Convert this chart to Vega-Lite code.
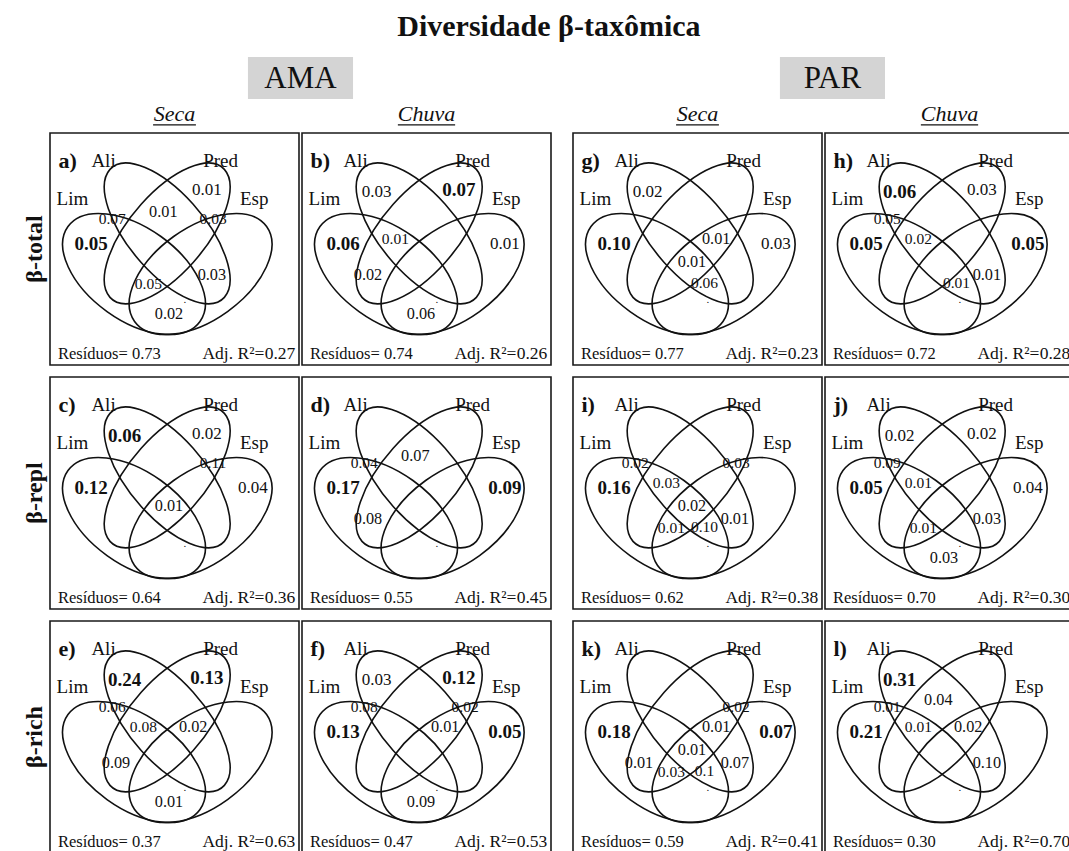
{
  "$schema": "https://vega.github.io/schema/vega-lite/v6.json",
  "background": "white",
  "padding": {"left": 22, "top": 12, "right": 0, "bottom": 0},
  "title": {"text": "Diversidade β-taxômica", "font": "Liberation Serif", "fontSize": 30, "fontWeight": "bold", "color": "#111", "anchor": "middle", "offset": 14},
  "datasets": {
    "fracoes": [
      {"letra": "a)", "regiao": "P", "valor": "0.01", "sig": false},
      {"letra": "a)", "regiao": "LA", "valor": "0.07", "sig": false},
      {"letra": "a)", "regiao": "AP", "valor": "0.01", "sig": false},
      {"letra": "a)", "regiao": "PE", "valor": "0.03", "sig": false},
      {"letra": "a)", "regiao": "L", "valor": "0.05", "sig": true},
      {"letra": "a)", "regiao": "LPE", "valor": "0.05", "sig": false},
      {"letra": "a)", "regiao": "AE", "valor": "0.03", "sig": false},
      {"letra": "a)", "regiao": "LE", "valor": "0.02", "sig": false},
      {"letra": "b)", "regiao": "A", "valor": "0.03", "sig": false},
      {"letra": "b)", "regiao": "P", "valor": "0.07", "sig": true},
      {"letra": "b)", "regiao": "L", "valor": "0.06", "sig": true},
      {"letra": "b)", "regiao": "LAP", "valor": "0.01", "sig": false},
      {"letra": "b)", "regiao": "E", "valor": "0.01", "sig": false},
      {"letra": "b)", "regiao": "LP", "valor": "0.02", "sig": false},
      {"letra": "b)", "regiao": "LE", "valor": "0.06", "sig": false},
      {"letra": "c)", "regiao": "A", "valor": "0.06", "sig": true},
      {"letra": "c)", "regiao": "P", "valor": "0.02", "sig": false},
      {"letra": "c)", "regiao": "PE", "valor": "0.11", "sig": false},
      {"letra": "c)", "regiao": "L", "valor": "0.12", "sig": true},
      {"letra": "c)", "regiao": "E", "valor": "0.04", "sig": false},
      {"letra": "c)", "regiao": "LAPE", "valor": "0.01", "sig": false},
      {"letra": "d)", "regiao": "LA", "valor": "0.04", "sig": false},
      {"letra": "d)", "regiao": "AP", "valor": "0.07", "sig": false},
      {"letra": "d)", "regiao": "L", "valor": "0.17", "sig": true},
      {"letra": "d)", "regiao": "E", "valor": "0.09", "sig": true},
      {"letra": "d)", "regiao": "LP", "valor": "0.08", "sig": false},
      {"letra": "e)", "regiao": "A", "valor": "0.24", "sig": true},
      {"letra": "e)", "regiao": "P", "valor": "0.13", "sig": true},
      {"letra": "e)", "regiao": "LA", "valor": "0.06", "sig": false},
      {"letra": "e)", "regiao": "LAP", "valor": "0.08", "sig": false},
      {"letra": "e)", "regiao": "APE", "valor": "0.02", "sig": false},
      {"letra": "e)", "regiao": "LP", "valor": "0.09", "sig": false},
      {"letra": "e)", "regiao": "LE", "valor": "0.01", "sig": false},
      {"letra": "f)", "regiao": "A", "valor": "0.03", "sig": false},
      {"letra": "f)", "regiao": "P", "valor": "0.12", "sig": true},
      {"letra": "f)", "regiao": "LA", "valor": "0.08", "sig": false},
      {"letra": "f)", "regiao": "PE", "valor": "0.02", "sig": false},
      {"letra": "f)", "regiao": "L", "valor": "0.13", "sig": true},
      {"letra": "f)", "regiao": "APE", "valor": "0.01", "sig": false},
      {"letra": "f)", "regiao": "E", "valor": "0.05", "sig": true},
      {"letra": "f)", "regiao": "LE", "valor": "0.09", "sig": false},
      {"letra": "g)", "regiao": "A", "valor": "0.02", "sig": false},
      {"letra": "g)", "regiao": "L", "valor": "0.10", "sig": true},
      {"letra": "g)", "regiao": "APE", "valor": "0.01", "sig": false},
      {"letra": "g)", "regiao": "E", "valor": "0.03", "sig": false},
      {"letra": "g)", "regiao": "LAPE", "valor": "0.01", "sig": false},
      {"letra": "g)", "regiao": "LAE", "valor": "0.06", "sig": false},
      {"letra": "h)", "regiao": "A", "valor": "0.06", "sig": true},
      {"letra": "h)", "regiao": "P", "valor": "0.03", "sig": false},
      {"letra": "h)", "regiao": "LA", "valor": "0.05", "sig": false},
      {"letra": "h)", "regiao": "LAP", "valor": "0.02", "sig": false},
      {"letra": "h)", "regiao": "L", "valor": "0.05", "sig": true},
      {"letra": "h)", "regiao": "E", "valor": "0.05", "sig": true},
      {"letra": "h)", "regiao": "LAE", "valor": "0.01", "sig": false},
      {"letra": "h)", "regiao": "AE", "valor": "0.01", "sig": false},
      {"letra": "i)", "regiao": "LA", "valor": "0.02", "sig": false},
      {"letra": "i)", "regiao": "PE", "valor": "0.03", "sig": false},
      {"letra": "i)", "regiao": "L", "valor": "0.16", "sig": true},
      {"letra": "i)", "regiao": "LAP", "valor": "0.03", "sig": false},
      {"letra": "i)", "regiao": "LAPE", "valor": "0.02", "sig": false},
      {"letra": "i)", "regiao": "AE", "valor": "0.01", "sig": false},
      {"letra": "i)", "regiao": "LPE", "valor": "0.01", "sig": false},
      {"letra": "i)", "regiao": "LAE", "valor": "0.10", "sig": false},
      {"letra": "j)", "regiao": "A", "valor": "0.02", "sig": false},
      {"letra": "j)", "regiao": "P", "valor": "0.02", "sig": false},
      {"letra": "j)", "regiao": "LA", "valor": "0.09", "sig": false},
      {"letra": "j)", "regiao": "LAP", "valor": "0.01", "sig": false},
      {"letra": "j)", "regiao": "L", "valor": "0.05", "sig": true},
      {"letra": "j)", "regiao": "E", "valor": "0.04", "sig": false},
      {"letra": "j)", "regiao": "AE", "valor": "0.03", "sig": false},
      {"letra": "j)", "regiao": "LPE", "valor": "0.01", "sig": false},
      {"letra": "j)", "regiao": "LE", "valor": "0.03", "sig": false},
      {"letra": "k)", "regiao": "PE", "valor": "0.02", "sig": false},
      {"letra": "k)", "regiao": "L", "valor": "0.18", "sig": true},
      {"letra": "k)", "regiao": "APE", "valor": "0.01", "sig": false},
      {"letra": "k)", "regiao": "E", "valor": "0.07", "sig": true},
      {"letra": "k)", "regiao": "LAPE", "valor": "0.01", "sig": false},
      {"letra": "k)", "regiao": "AE", "valor": "0.07", "sig": false},
      {"letra": "k)", "regiao": "LP", "valor": "0.01", "sig": false},
      {"letra": "k)", "regiao": "LPE", "valor": "0.03", "sig": false},
      {"letra": "k)", "regiao": "LAE", "valor": "0.1", "sig": false},
      {"letra": "l)", "regiao": "A", "valor": "0.31", "sig": true},
      {"letra": "l)", "regiao": "AP", "valor": "0.04", "sig": false},
      {"letra": "l)", "regiao": "LA", "valor": "0.01", "sig": false},
      {"letra": "l)", "regiao": "L", "valor": "0.21", "sig": true},
      {"letra": "l)", "regiao": "LAP", "valor": "0.01", "sig": false},
      {"letra": "l)", "regiao": "APE", "valor": "0.02", "sig": false},
      {"letra": "l)", "regiao": "AE", "valor": "0.10", "sig": false}
    ],
    "paineis": [
      {"letra": "a)", "indice": "β-total", "local": "AMA", "periodo": "Seca", "residuos": 0.73, "r2": 0.27},
      {"letra": "b)", "indice": "β-total", "local": "AMA", "periodo": "Chuva", "residuos": 0.74, "r2": 0.26},
      {"letra": "c)", "indice": "β-repl", "local": "AMA", "periodo": "Seca", "residuos": 0.64, "r2": 0.36},
      {"letra": "d)", "indice": "β-repl", "local": "AMA", "periodo": "Chuva", "residuos": 0.55, "r2": 0.45},
      {"letra": "e)", "indice": "β-rich", "local": "AMA", "periodo": "Seca", "residuos": 0.37, "r2": 0.63},
      {"letra": "f)", "indice": "β-rich", "local": "AMA", "periodo": "Chuva", "residuos": 0.47, "r2": 0.53},
      {"letra": "g)", "indice": "β-total", "local": "PAR", "periodo": "Seca", "residuos": 0.77, "r2": 0.23},
      {"letra": "h)", "indice": "β-total", "local": "PAR", "periodo": "Chuva", "residuos": 0.72, "r2": 0.28},
      {"letra": "i)", "indice": "β-repl", "local": "PAR", "periodo": "Seca", "residuos": 0.62, "r2": 0.38},
      {"letra": "j)", "indice": "β-repl", "local": "PAR", "periodo": "Chuva", "residuos": 0.70, "r2": 0.30},
      {"letra": "k)", "indice": "β-rich", "local": "PAR", "periodo": "Seca", "residuos": 0.59, "r2": 0.41},
      {"letra": "l)", "indice": "β-rich", "local": "PAR", "periodo": "Chuva", "residuos": 0.30, "r2": 0.70}
    ],
    "regioes": [
      {"regiao": "L", "x": 0.165, "y": 0.48, "tipo": "externa"},
      {"regiao": "A", "x": 0.3, "y": 0.255, "tipo": "externa"},
      {"regiao": "P", "x": 0.63, "y": 0.245, "tipo": "externa"},
      {"regiao": "E", "x": 0.815, "y": 0.48, "tipo": "externa"},
      {"regiao": "LA", "x": 0.25, "y": 0.372, "tipo": "estreita"},
      {"regiao": "PE", "x": 0.655, "y": 0.37, "tipo": "estreita"},
      {"regiao": "AP", "x": 0.455, "y": 0.342, "tipo": "central"},
      {"regiao": "LAP", "x": 0.375, "y": 0.458, "tipo": "estreita"},
      {"regiao": "APE", "x": 0.575, "y": 0.455, "tipo": "central"},
      {"regiao": "LAPE", "x": 0.478, "y": 0.555, "tipo": "central"},
      {"regiao": "LP", "x": 0.265, "y": 0.61, "tipo": "central"},
      {"regiao": "AE", "x": 0.65, "y": 0.61, "tipo": "central"},
      {"regiao": "LPE", "x": 0.395, "y": 0.652, "tipo": "estreita"},
      {"regiao": "LAE", "x": 0.528, "y": 0.648, "tipo": "estreita"},
      {"regiao": "LE", "x": 0.478, "y": 0.78, "tipo": "central"}
    ]
  },
  "data": {"name": "fracoes"},
  "transform": [
    {"lookup": "letra", "from": {"data": {"name": "paineis"}, "key": "letra", "fields": ["indice", "local", "periodo", "residuos", "r2"]}},
    {"lookup": "regiao", "from": {"data": {"name": "regioes"}, "key": "regiao", "fields": ["x", "y", "tipo"]}}
  ],
  "spacing": 20,
  "hconcat": [
    {
      "transform": [{"filter": "datum.local === 'AMA'"}],
      "bounds": "flush",
      "spacing": {"row": 12, "column": 3},
      "facet": {
        "row": {"field": "indice", "type": "nominal", "sort": ["β-total", "β-repl", "β-rich"], "title": null,
                "header": {"labelFont": "Liberation Serif", "labelFontSize": 24, "labelFontWeight": "bold", "labelColor": "#111", "labelAngle": -90, "labelOrient": "left", "labelPadding": -9}},
        "column": {"field": "periodo", "type": "nominal", "sort": ["Seca", "Chuva"], "title": null, "header": {"labels": false}}
      },
      "spec": {
        "width": 249,
        "height": 232,
        "layer": [
          {
            "transform": [{"filter": "!datum.sig"}],
            "mark": {"type": "text", "font": "Liberation Serif", "color": "#111", "baseline": "middle"},
            "encoding": {
              "x": {"field": "x", "type": "quantitative", "scale": {"domain": [0, 1], "nice": false, "zero": false}, "axis": null},
              "y": {"field": "y", "type": "quantitative", "scale": {"domain": [0, 1], "nice": false, "zero": false, "reverse": true}, "axis": null},
              "text": {"field": "valor"},
              "size": {"field": "tipo", "type": "ordinal", "legend": null, "scale": {"domain": ["externa", "central", "estreita"], "range": [17, 15.5, 13]}}
            }
          },
          {
            "transform": [{"filter": "datum.sig"}],
            "mark": {"type": "text", "font": "Liberation Serif", "fontSize": 19, "fontWeight": "bold", "color": "#111", "baseline": "middle"},
            "encoding": {
              "x": {"field": "x", "type": "quantitative", "scale": {"domain": [0, 1], "nice": false, "zero": false}, "axis": null},
              "y": {"field": "y", "type": "quantitative", "scale": {"domain": [0, 1], "nice": false, "zero": false, "reverse": true}, "axis": null},
              "text": {"field": "valor"}
            }
          },
          {
            "transform": [{"aggregate": [{"op": "count", "as": "n"}], "groupby": ["letra", "indice", "local", "periodo", "residuos", "r2"]}],
            "layer": [
              {
                "mark": {"type": "point", "filled": false, "size": 4, "stroke": "#111", "strokeWidth": 1.6, "opacity": 1,
                         "shape": "M66.02,47.44C51.13,68.16,9.5,63.72,-26.96,37.52C-63.42,11.32,-80.91,-26.72,-66.02,-47.44C-51.13,-68.16,-9.5,-63.72,26.96,-37.52C63.42,-11.32,80.91,26.72,66.02,47.44Z"},
                "encoding": {
                  "x": {"datum": 0.3373, "type": "quantitative", "scale": {"domain": [0, 1], "nice": false, "zero": false}, "axis": null},
                  "y": {"datum": 0.6078, "type": "quantitative", "scale": {"domain": [0, 1], "nice": false, "zero": false, "reverse": true}, "axis": null}
                }
              },
              {
                "mark": {"type": "point", "filled": false, "size": 4, "stroke": "#111", "strokeWidth": 1.6, "opacity": 1,
                         "shape": "M-57.19,-63.98C-71.55,-47.92,-57.59,-6.26,-26,29.08C5.59,64.42,42.83,80.04,57.19,63.98C71.55,47.92,57.59,6.26,26,-29.08C-5.59,-64.42,-42.83,-80.04,-57.19,-63.98Z"},
                "encoding": {
                  "x": {"datum": 0.4706, "type": "quantitative", "scale": {"domain": [0, 1], "nice": false, "zero": false}, "axis": null},
                  "y": {"datum": 0.4326, "type": "quantitative", "scale": {"domain": [0, 1], "nice": false, "zero": false, "reverse": true}, "axis": null}
                }
              },
              {
                "mark": {"type": "point", "filled": false, "size": 4, "stroke": "#111", "strokeWidth": 1.6, "opacity": 1,
                         "shape": "M57.19,-63.98C71.55,-47.92,57.59,-6.26,26,29.08C-5.59,64.42,-42.83,80.04,-57.19,63.98C-71.55,47.92,-57.59,6.26,-26,-29.08C5.59,-64.42,42.83,-80.04,57.19,-63.98Z"},
                "encoding": {
                  "x": {"datum": 0.4706, "type": "quantitative", "scale": {"domain": [0, 1], "nice": false, "zero": false}, "axis": null},
                  "y": {"datum": 0.4326, "type": "quantitative", "scale": {"domain": [0, 1], "nice": false, "zero": false, "reverse": true}, "axis": null}
                }
              },
              {
                "mark": {"type": "point", "filled": false, "size": 4, "stroke": "#111", "strokeWidth": 1.6, "opacity": 1,
                         "shape": "M-66.02,47.44C-51.13,68.16,-9.5,63.72,26.96,37.52C63.42,11.32,80.91,-26.72,66.02,-47.44C51.13,-68.16,9.5,-63.72,-26.96,-37.52C-63.42,-11.32,-80.91,26.72,-66.02,47.44Z"},
                "encoding": {
                  "x": {"datum": 0.6048, "type": "quantitative", "scale": {"domain": [0, 1], "nice": false, "zero": false}, "axis": null},
                  "y": {"datum": 0.6078, "type": "quantitative", "scale": {"domain": [0, 1], "nice": false, "zero": false, "reverse": true}, "axis": null}
                }
              },
              {
                "mark": {"type": "text", "text": "Lim", "fontSize": 19, "color": "#111", "baseline": "middle"},
                "encoding": {
                  "x": {"datum": 0.09, "type": "quantitative", "scale": {"domain": [0, 1], "nice": false, "zero": false}, "axis": null},
                  "y": {"datum": 0.284, "type": "quantitative", "scale": {"domain": [0, 1], "nice": false, "zero": false, "reverse": true}, "axis": null}
                }
              },
              {
                "mark": {"type": "text", "text": "Ali", "fontSize": 19, "color": "#111", "baseline": "middle"},
                "encoding": {
                  "x": {"datum": 0.215, "type": "quantitative", "scale": {"domain": [0, 1], "nice": false, "zero": false}, "axis": null},
                  "y": {"datum": 0.122, "type": "quantitative", "scale": {"domain": [0, 1], "nice": false, "zero": false, "reverse": true}, "axis": null}
                }
              },
              {
                "mark": {"type": "text", "text": "Pred", "fontSize": 19, "color": "#111", "baseline": "middle"},
                "encoding": {
                  "x": {"datum": 0.685, "type": "quantitative", "scale": {"domain": [0, 1], "nice": false, "zero": false}, "axis": null},
                  "y": {"datum": 0.122, "type": "quantitative", "scale": {"domain": [0, 1], "nice": false, "zero": false, "reverse": true}, "axis": null}
                }
              },
              {
                "mark": {"type": "text", "text": "Esp", "fontSize": 19, "color": "#111", "baseline": "middle"},
                "encoding": {
                  "x": {"datum": 0.82, "type": "quantitative", "scale": {"domain": [0, 1], "nice": false, "zero": false}, "axis": null},
                  "y": {"datum": 0.284, "type": "quantitative", "scale": {"domain": [0, 1], "nice": false, "zero": false, "reverse": true}, "axis": null}
                }
              },
              {
                "mark": {"type": "text", "fontSize": 22, "fontWeight": "bold", "color": "#111", "align": "left", "baseline": "middle"},
                "encoding": {
                  "text": {"field": "letra"},
                  "x": {"datum": 0.034, "type": "quantitative", "scale": {"domain": [0, 1], "nice": false, "zero": false}, "axis": null},
                  "y": {"datum": 0.12, "type": "quantitative", "scale": {"domain": [0, 1], "nice": false, "zero": false, "reverse": true}, "axis": null}
                }
              },
              {
                "mark": {"type": "text", "text": ".", "fontSize": 11, "color": "#111", "baseline": "middle"},
                "encoding": {
                  "x": {"datum": 0.542, "type": "quantitative", "scale": {"domain": [0, 1], "nice": false, "zero": false}, "axis": null},
                  "y": {"datum": 0.718, "type": "quantitative", "scale": {"domain": [0, 1], "nice": false, "zero": false, "reverse": true}, "axis": null}
                }
              },
              {
                "mark": {"type": "text", "text": "Resíduos=", "fontSize": 16.5, "color": "#111", "align": "left", "baseline": "alphabetic"},
                "encoding": {
                  "x": {"datum": 0.032, "type": "quantitative", "scale": {"domain": [0, 1], "nice": false, "zero": false}, "axis": null},
                  "y": {"datum": 0.975, "type": "quantitative", "scale": {"domain": [0, 1], "nice": false, "zero": false, "reverse": true}, "axis": null}
                }
              },
              {
                "mark": {"type": "text", "fontSize": 16.5, "color": "#111", "align": "left", "baseline": "alphabetic", "dx": 74},
                "encoding": {
                  "text": {"field": "residuos", "format": ".2f"},
                  "x": {"datum": 0.032, "type": "quantitative", "scale": {"domain": [0, 1], "nice": false, "zero": false}, "axis": null},
                  "y": {"datum": 0.975, "type": "quantitative", "scale": {"domain": [0, 1], "nice": false, "zero": false, "reverse": true}, "axis": null}
                }
              },
              {
                "mark": {"type": "text", "text": "Adj. R²=", "fontSize": 17.5, "color": "#111", "align": "right", "baseline": "alphabetic", "dx": -31},
                "encoding": {
                  "x": {"datum": 0.985, "type": "quantitative", "scale": {"domain": [0, 1], "nice": false, "zero": false}, "axis": null},
                  "y": {"datum": 0.975, "type": "quantitative", "scale": {"domain": [0, 1], "nice": false, "zero": false, "reverse": true}, "axis": null}
                }
              },
              {
                "mark": {"type": "text", "fontSize": 17.5, "color": "#111", "align": "right", "baseline": "alphabetic"},
                "encoding": {
                  "text": {"field": "r2", "format": ".2f"},
                  "x": {"datum": 0.985, "type": "quantitative", "scale": {"domain": [0, 1], "nice": false, "zero": false}, "axis": null},
                  "y": {"datum": 0.975, "type": "quantitative", "scale": {"domain": [0, 1], "nice": false, "zero": false, "reverse": true}, "axis": null}
                }
              },
              {
                "transform": [{"filter": "datum.indice === 'β-total'"}],
                "mark": {"type": "text", "fontSize": 22, "fontStyle": "italic", "color": "#111", "baseline": "alphabetic"},
                "encoding": {
                  "text": {"field": "periodo"},
                  "x": {"datum": 0.5, "type": "quantitative", "scale": {"domain": [0, 1], "nice": false, "zero": false}, "axis": null},
                  "y": {"datum": -0.052, "type": "quantitative", "scale": {"domain": [0, 1], "nice": false, "zero": false, "reverse": true}, "axis": null}
                }
              },
              {
                "transform": [{"filter": "datum.indice === 'β-total' && datum.periodo === 'Seca'"}],
                "mark": {"type": "rule", "stroke": "#111", "strokeWidth": 1.2},
                "encoding": {
                  "x": {"datum": 0.414, "type": "quantitative", "scale": {"domain": [0, 1], "nice": false, "zero": false}, "axis": null},
                  "x2": {"datum": 0.586},
                  "y": {"datum": -0.035, "type": "quantitative", "scale": {"domain": [0, 1], "nice": false, "zero": false, "reverse": true}, "axis": null}
                }
              },
              {
                "transform": [{"filter": "datum.indice === 'β-total' && datum.periodo === 'Chuva'"}],
                "mark": {"type": "rule", "stroke": "#111", "strokeWidth": 1.2},
                "encoding": {
                  "x": {"datum": 0.385, "type": "quantitative", "scale": {"domain": [0, 1], "nice": false, "zero": false}, "axis": null},
                  "x2": {"datum": 0.615},
                  "y": {"datum": -0.035, "type": "quantitative", "scale": {"domain": [0, 1], "nice": false, "zero": false, "reverse": true}, "axis": null}
                }
              },
              {
                "transform": [{"filter": "datum.indice === 'β-total' && datum.periodo === 'Seca'"}],
                "mark": {"type": "rect", "fill": "#d4d4d4"},
                "encoding": {
                  "x": {"datum": 0.795, "type": "quantitative", "scale": {"domain": [0, 1], "nice": false, "zero": false}, "axis": null},
                  "x2": {"datum": 1.217},
                  "y": {"datum": -0.328, "type": "quantitative", "scale": {"domain": [0, 1], "nice": false, "zero": false, "reverse": true}, "axis": null},
                  "y2": {"datum": -0.147}
                }
              },
              {
                "transform": [{"filter": "datum.indice === 'β-total' && datum.periodo === 'Seca'"}],
                "mark": {"type": "text", "fontSize": 31, "color": "#111", "baseline": "middle", "dy": 1},
                "encoding": {
                  "text": {"field": "local"},
                  "x": {"datum": 1.006, "type": "quantitative", "scale": {"domain": [0, 1], "nice": false, "zero": false}, "axis": null},
                  "y": {"datum": -0.237, "type": "quantitative", "scale": {"domain": [0, 1], "nice": false, "zero": false, "reverse": true}, "axis": null}
                }
              }
            ]
          }
        ]
      }
    },
    {
      "transform": [{"filter": "datum.local === 'PAR'"}],
      "bounds": "flush",
      "spacing": {"row": 12, "column": 3},
      "facet": {
        "row": {"field": "indice", "type": "nominal", "sort": ["β-total", "β-repl", "β-rich"], "title": null, "header": {"labels": false}},
        "column": {"field": "periodo", "type": "nominal", "sort": ["Seca", "Chuva"], "title": null, "header": {"labels": false}}
      },
      "spec": {
        "width": 249,
        "height": 232,
        "layer": [
          {
            "transform": [{"filter": "!datum.sig"}],
            "mark": {"type": "text", "font": "Liberation Serif", "color": "#111", "baseline": "middle"},
            "encoding": {
              "x": {"field": "x", "type": "quantitative", "scale": {"domain": [0, 1], "nice": false, "zero": false}, "axis": null},
              "y": {"field": "y", "type": "quantitative", "scale": {"domain": [0, 1], "nice": false, "zero": false, "reverse": true}, "axis": null},
              "text": {"field": "valor"},
              "size": {"field": "tipo", "type": "ordinal", "legend": null, "scale": {"domain": ["externa", "central", "estreita"], "range": [17, 15.5, 13]}}
            }
          },
          {
            "transform": [{"filter": "datum.sig"}],
            "mark": {"type": "text", "font": "Liberation Serif", "fontSize": 19, "fontWeight": "bold", "color": "#111", "baseline": "middle"},
            "encoding": {
              "x": {"field": "x", "type": "quantitative", "scale": {"domain": [0, 1], "nice": false, "zero": false}, "axis": null},
              "y": {"field": "y", "type": "quantitative", "scale": {"domain": [0, 1], "nice": false, "zero": false, "reverse": true}, "axis": null},
              "text": {"field": "valor"}
            }
          },
          {
            "transform": [{"aggregate": [{"op": "count", "as": "n"}], "groupby": ["letra", "indice", "local", "periodo", "residuos", "r2"]}],
            "layer": [
              {
                "mark": {"type": "point", "filled": false, "size": 4, "stroke": "#111", "strokeWidth": 1.6, "opacity": 1,
                         "shape": "M66.02,47.44C51.13,68.16,9.5,63.72,-26.96,37.52C-63.42,11.32,-80.91,-26.72,-66.02,-47.44C-51.13,-68.16,-9.5,-63.72,26.96,-37.52C63.42,-11.32,80.91,26.72,66.02,47.44Z"},
                "encoding": {
                  "x": {"datum": 0.3373, "type": "quantitative", "scale": {"domain": [0, 1], "nice": false, "zero": false}, "axis": null},
                  "y": {"datum": 0.6078, "type": "quantitative", "scale": {"domain": [0, 1], "nice": false, "zero": false, "reverse": true}, "axis": null}
                }
              },
              {
                "mark": {"type": "point", "filled": false, "size": 4, "stroke": "#111", "strokeWidth": 1.6, "opacity": 1,
                         "shape": "M-57.19,-63.98C-71.55,-47.92,-57.59,-6.26,-26,29.08C5.59,64.42,42.83,80.04,57.19,63.98C71.55,47.92,57.59,6.26,26,-29.08C-5.59,-64.42,-42.83,-80.04,-57.19,-63.98Z"},
                "encoding": {
                  "x": {"datum": 0.4706, "type": "quantitative", "scale": {"domain": [0, 1], "nice": false, "zero": false}, "axis": null},
                  "y": {"datum": 0.4326, "type": "quantitative", "scale": {"domain": [0, 1], "nice": false, "zero": false, "reverse": true}, "axis": null}
                }
              },
              {
                "mark": {"type": "point", "filled": false, "size": 4, "stroke": "#111", "strokeWidth": 1.6, "opacity": 1,
                         "shape": "M57.19,-63.98C71.55,-47.92,57.59,-6.26,26,29.08C-5.59,64.42,-42.83,80.04,-57.19,63.98C-71.55,47.92,-57.59,6.26,-26,-29.08C5.59,-64.42,42.83,-80.04,57.19,-63.98Z"},
                "encoding": {
                  "x": {"datum": 0.4706, "type": "quantitative", "scale": {"domain": [0, 1], "nice": false, "zero": false}, "axis": null},
                  "y": {"datum": 0.4326, "type": "quantitative", "scale": {"domain": [0, 1], "nice": false, "zero": false, "reverse": true}, "axis": null}
                }
              },
              {
                "mark": {"type": "point", "filled": false, "size": 4, "stroke": "#111", "strokeWidth": 1.6, "opacity": 1,
                         "shape": "M-66.02,47.44C-51.13,68.16,-9.5,63.72,26.96,37.52C63.42,11.32,80.91,-26.72,66.02,-47.44C51.13,-68.16,9.5,-63.72,-26.96,-37.52C-63.42,-11.32,-80.91,26.72,-66.02,47.44Z"},
                "encoding": {
                  "x": {"datum": 0.6048, "type": "quantitative", "scale": {"domain": [0, 1], "nice": false, "zero": false}, "axis": null},
                  "y": {"datum": 0.6078, "type": "quantitative", "scale": {"domain": [0, 1], "nice": false, "zero": false, "reverse": true}, "axis": null}
                }
              },
              {
                "mark": {"type": "text", "text": "Lim", "fontSize": 19, "color": "#111", "baseline": "middle"},
                "encoding": {
                  "x": {"datum": 0.09, "type": "quantitative", "scale": {"domain": [0, 1], "nice": false, "zero": false}, "axis": null},
                  "y": {"datum": 0.284, "type": "quantitative", "scale": {"domain": [0, 1], "nice": false, "zero": false, "reverse": true}, "axis": null}
                }
              },
              {
                "mark": {"type": "text", "text": "Ali", "fontSize": 19, "color": "#111", "baseline": "middle"},
                "encoding": {
                  "x": {"datum": 0.215, "type": "quantitative", "scale": {"domain": [0, 1], "nice": false, "zero": false}, "axis": null},
                  "y": {"datum": 0.122, "type": "quantitative", "scale": {"domain": [0, 1], "nice": false, "zero": false, "reverse": true}, "axis": null}
                }
              },
              {
                "mark": {"type": "text", "text": "Pred", "fontSize": 19, "color": "#111", "baseline": "middle"},
                "encoding": {
                  "x": {"datum": 0.685, "type": "quantitative", "scale": {"domain": [0, 1], "nice": false, "zero": false}, "axis": null},
                  "y": {"datum": 0.122, "type": "quantitative", "scale": {"domain": [0, 1], "nice": false, "zero": false, "reverse": true}, "axis": null}
                }
              },
              {
                "mark": {"type": "text", "text": "Esp", "fontSize": 19, "color": "#111", "baseline": "middle"},
                "encoding": {
                  "x": {"datum": 0.82, "type": "quantitative", "scale": {"domain": [0, 1], "nice": false, "zero": false}, "axis": null},
                  "y": {"datum": 0.284, "type": "quantitative", "scale": {"domain": [0, 1], "nice": false, "zero": false, "reverse": true}, "axis": null}
                }
              },
              {
                "mark": {"type": "text", "fontSize": 22, "fontWeight": "bold", "color": "#111", "align": "left", "baseline": "middle"},
                "encoding": {
                  "text": {"field": "letra"},
                  "x": {"datum": 0.034, "type": "quantitative", "scale": {"domain": [0, 1], "nice": false, "zero": false}, "axis": null},
                  "y": {"datum": 0.12, "type": "quantitative", "scale": {"domain": [0, 1], "nice": false, "zero": false, "reverse": true}, "axis": null}
                }
              },
              {
                "mark": {"type": "text", "text": ".", "fontSize": 11, "color": "#111", "baseline": "middle"},
                "encoding": {
                  "x": {"datum": 0.542, "type": "quantitative", "scale": {"domain": [0, 1], "nice": false, "zero": false}, "axis": null},
                  "y": {"datum": 0.718, "type": "quantitative", "scale": {"domain": [0, 1], "nice": false, "zero": false, "reverse": true}, "axis": null}
                }
              },
              {
                "mark": {"type": "text", "text": "Resíduos=", "fontSize": 16.5, "color": "#111", "align": "left", "baseline": "alphabetic"},
                "encoding": {
                  "x": {"datum": 0.032, "type": "quantitative", "scale": {"domain": [0, 1], "nice": false, "zero": false}, "axis": null},
                  "y": {"datum": 0.975, "type": "quantitative", "scale": {"domain": [0, 1], "nice": false, "zero": false, "reverse": true}, "axis": null}
                }
              },
              {
                "mark": {"type": "text", "fontSize": 16.5, "color": "#111", "align": "left", "baseline": "alphabetic", "dx": 74},
                "encoding": {
                  "text": {"field": "residuos", "format": ".2f"},
                  "x": {"datum": 0.032, "type": "quantitative", "scale": {"domain": [0, 1], "nice": false, "zero": false}, "axis": null},
                  "y": {"datum": 0.975, "type": "quantitative", "scale": {"domain": [0, 1], "nice": false, "zero": false, "reverse": true}, "axis": null}
                }
              },
              {
                "mark": {"type": "text", "text": "Adj. R²=", "fontSize": 17.5, "color": "#111", "align": "right", "baseline": "alphabetic", "dx": -31},
                "encoding": {
                  "x": {"datum": 0.985, "type": "quantitative", "scale": {"domain": [0, 1], "nice": false, "zero": false}, "axis": null},
                  "y": {"datum": 0.975, "type": "quantitative", "scale": {"domain": [0, 1], "nice": false, "zero": false, "reverse": true}, "axis": null}
                }
              },
              {
                "mark": {"type": "text", "fontSize": 17.5, "color": "#111", "align": "right", "baseline": "alphabetic"},
                "encoding": {
                  "text": {"field": "r2", "format": ".2f"},
                  "x": {"datum": 0.985, "type": "quantitative", "scale": {"domain": [0, 1], "nice": false, "zero": false}, "axis": null},
                  "y": {"datum": 0.975, "type": "quantitative", "scale": {"domain": [0, 1], "nice": false, "zero": false, "reverse": true}, "axis": null}
                }
              },
              {
                "transform": [{"filter": "datum.indice === 'β-total'"}],
                "mark": {"type": "text", "fontSize": 22, "fontStyle": "italic", "color": "#111", "baseline": "alphabetic"},
                "encoding": {
                  "text": {"field": "periodo"},
                  "x": {"datum": 0.5, "type": "quantitative", "scale": {"domain": [0, 1], "nice": false, "zero": false}, "axis": null},
                  "y": {"datum": -0.052, "type": "quantitative", "scale": {"domain": [0, 1], "nice": false, "zero": false, "reverse": true}, "axis": null}
                }
              },
              {
                "transform": [{"filter": "datum.indice === 'β-total' && datum.periodo === 'Seca'"}],
                "mark": {"type": "rule", "stroke": "#111", "strokeWidth": 1.2},
                "encoding": {
                  "x": {"datum": 0.414, "type": "quantitative", "scale": {"domain": [0, 1], "nice": false, "zero": false}, "axis": null},
                  "x2": {"datum": 0.586},
                  "y": {"datum": -0.035, "type": "quantitative", "scale": {"domain": [0, 1], "nice": false, "zero": false, "reverse": true}, "axis": null}
                }
              },
              {
                "transform": [{"filter": "datum.indice === 'β-total' && datum.periodo === 'Chuva'"}],
                "mark": {"type": "rule", "stroke": "#111", "strokeWidth": 1.2},
                "encoding": {
                  "x": {"datum": 0.385, "type": "quantitative", "scale": {"domain": [0, 1], "nice": false, "zero": false}, "axis": null},
                  "x2": {"datum": 0.615},
                  "y": {"datum": -0.035, "type": "quantitative", "scale": {"domain": [0, 1], "nice": false, "zero": false, "reverse": true}, "axis": null}
                }
              },
              {
                "transform": [{"filter": "datum.indice === 'β-total' && datum.periodo === 'Seca'"}],
                "mark": {"type": "rect", "fill": "#d4d4d4"},
                "encoding": {
                  "x": {"datum": 0.831, "type": "quantitative", "scale": {"domain": [0, 1], "nice": false, "zero": false}, "axis": null},
                  "x2": {"datum": 1.253},
                  "y": {"datum": -0.328, "type": "quantitative", "scale": {"domain": [0, 1], "nice": false, "zero": false, "reverse": true}, "axis": null},
                  "y2": {"datum": -0.147}
                }
              },
              {
                "transform": [{"filter": "datum.indice === 'β-total' && datum.periodo === 'Seca'"}],
                "mark": {"type": "text", "fontSize": 31, "color": "#111", "baseline": "middle", "dy": 1},
                "encoding": {
                  "text": {"field": "local"},
                  "x": {"datum": 1.042, "type": "quantitative", "scale": {"domain": [0, 1], "nice": false, "zero": false}, "axis": null},
                  "y": {"datum": -0.237, "type": "quantitative", "scale": {"domain": [0, 1], "nice": false, "zero": false, "reverse": true}, "axis": null}
                }
              }
            ]
          }
        ]
      }
    }
  ],
  "config": {
    "view": {"stroke": "#1a1a1a", "strokeWidth": 1.6},
    "text": {"font": "Liberation Serif"}
  }
}
